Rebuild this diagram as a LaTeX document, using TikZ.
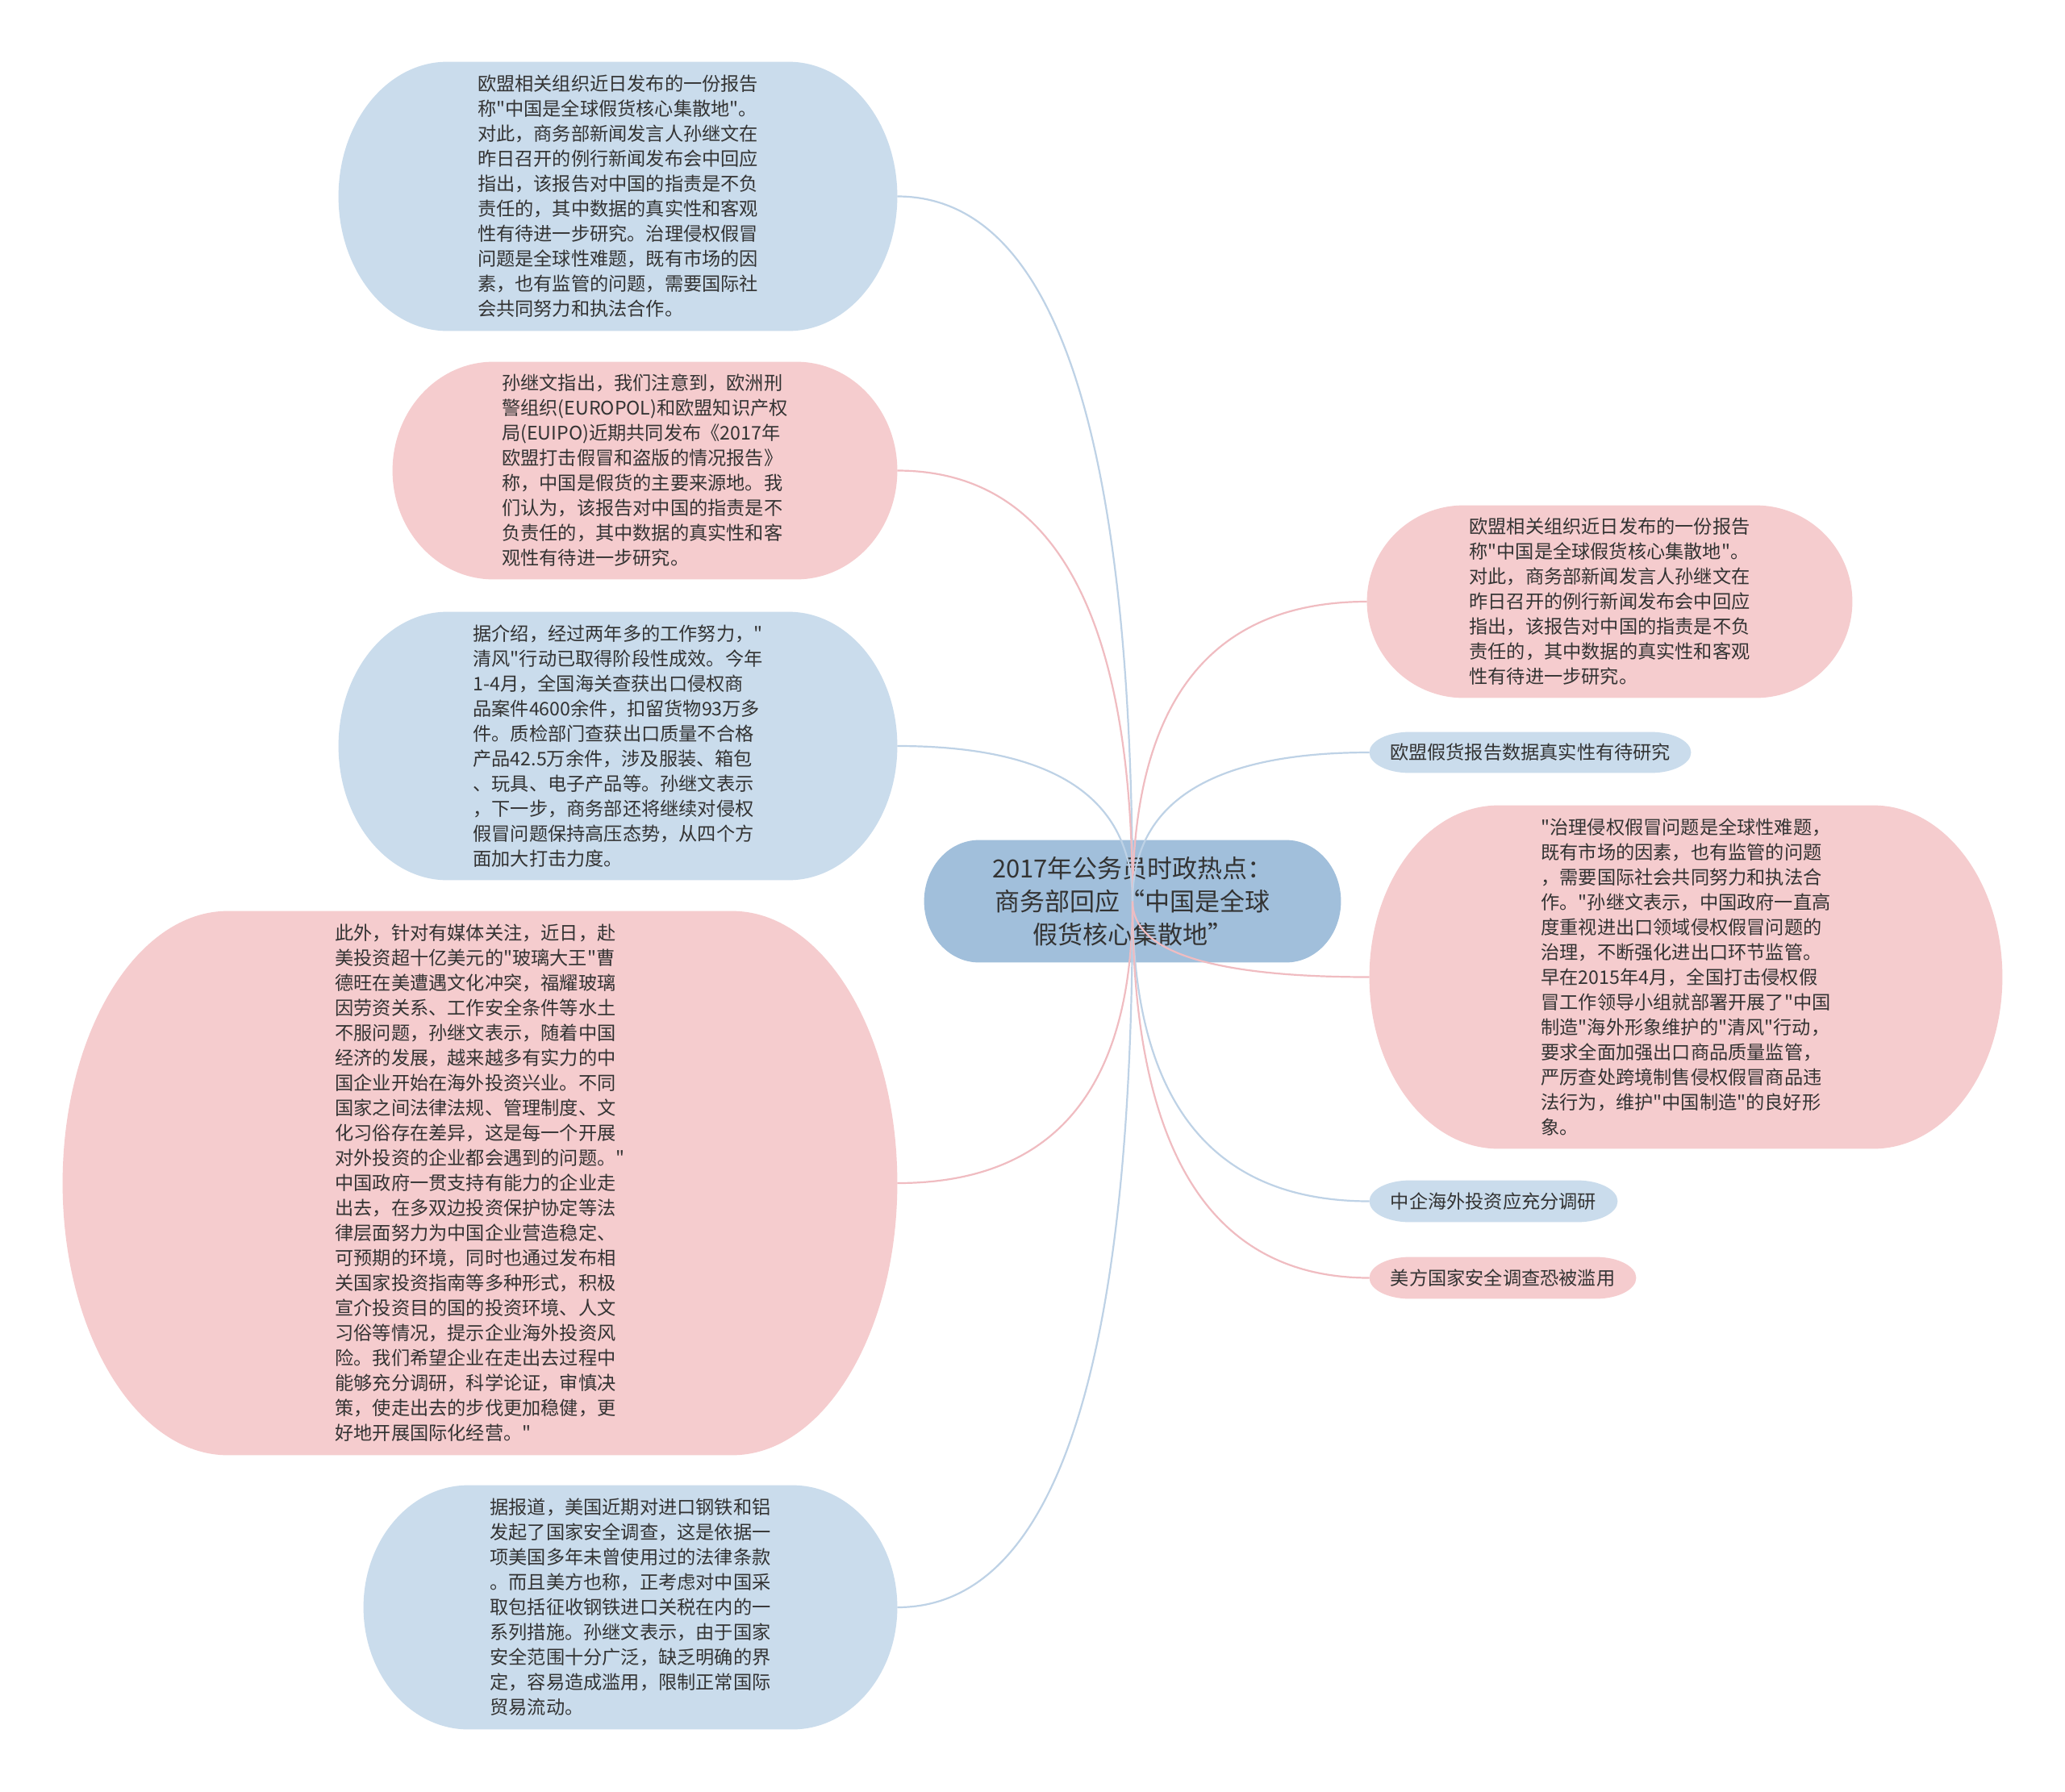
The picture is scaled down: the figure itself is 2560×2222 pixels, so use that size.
\documentclass[tikz,border=0pt]{standalone}
\usepackage{fontspec}
\setmainfont{Noto Sans CJK SC}[Ligatures=TeXOff]
\usetikzlibrary{calc}
\definecolor{bluefill}{RGB}{202,220,236}
\definecolor{pinkfill}{RGB}{245,204,206}
\definecolor{ctrfill}{RGB}{161,191,219}
\definecolor{blueline}{RGB}{190,210,230}
\definecolor{pinkline}{RGB}{240,188,193}
\definecolor{txt}{RGB}{51,51,51}
\pgfdeclarelayer{background}
\pgfsetlayers{background,main}
\newcommand\myblob[3]{%
\begin{pgfonlayer}{background}
\path[fill=#3] let \p1=(#1.north west), \p2=(#1.south east), \n1={(\y1-\y2)/2}, \n2={#2*0.5pt} in
 (\x1+\n2,\y1) -- (\x2-\n2,\y1)
 arc[start angle=90,end angle=0,x radius=\n2,y radius=\n1]
 arc[start angle=0,end angle=-90,x radius=\n2,y radius=\n1]
 -- (\x1+\n2,\y2)
 arc[start angle=270,end angle=180,x radius=\n2,y radius=\n1]
 arc[start angle=180,end angle=90,x radius=\n2,y radius=\n1]
 -- cycle;
\end{pgfonlayer}}
\newcommand\mylink[2]{%
\draw[#2, line width=1.1pt] (C.center) .. controls ($(C.center)!0.6667!(C.center|-#1)$) and ($(#1)!0.6667!(C.center|-#1)$) .. (#1);}
\begin{document}
\begin{tikzpicture}[x=0.5pt,y=-0.5pt,
  every node/.style={text=txt},
  tnode/.style={inner sep=0pt, align=left, font=\fontsize{11.6pt}{15.5pt}\selectfont}]
\useasboundingbox (0,0) rectangle (2560,2222);
\begin{pgfonlayer}{background}
\fill[white] (0,0) rectangle (2560,2222);
\end{pgfonlayer}

\node[tnode, minimum width=346pt, minimum height=166.5pt] (L1) at (766,243.5) {%
欧盟相关组织近日发布的一份报告\\
称"中国是全球假货核心集散地"。\\
对此，商务部新闻发言人孙继文在\\
昨日召开的例行新闻发布会中回应\\
指出，该报告对中国的指责是不负\\
责任的，其中数据的真实性和客观\\
性有待进一步研究。治理侵权假冒\\
问题是全球性难题，既有市场的因\\
素，也有监管的问题，需要国际社\\
会共同努力和执法合作。};
\myblob{L1}{135}{bluefill}

\node[tnode, minimum width=312.5pt, minimum height=134.5pt] (L2) at (799.5,583.5) {%
孙继文指出，我们注意到，欧洲刑\\
警组织(EUROPOL)和欧盟知识产权\\
局(EUIPO)近期共同发布《2017年\\
欧盟打击假冒和盗版的情况报告》\\
称，中国是假货的主要来源地。我\\
们认为，该报告对中国的指责是不\\
负责任的，其中数据的真实性和客\\
观性有待进一步研究。};
\myblob{L2}{125}{pinkfill}

\node[tnode, minimum width=346pt, minimum height=166pt] (L3) at (766,925) {%
据介绍，经过两年多的工作努力，"\\
清风"行动已取得阶段性成效。今年\\
1-4月，全国海关查获出口侵权商\\
品案件4600余件，扣留货物93万多\\
件。质检部门查获出口质量不合格\\
产品42.5万余件，涉及服装、箱包\\
、玩具、电子产品等。孙继文表示\\
，下一步，商务部还将继续对侵权\\
假冒问题保持高压态势，从四个方\\
面加大打击力度。};
\myblob{L3}{135}{bluefill}

\node[tnode, minimum width=517pt, minimum height=337pt] (L4) at (595,1467) {%
此外，针对有媒体关注，近日，赴\\
美投资超十亿美元的"玻璃大王"曹\\
德旺在美遭遇文化冲突，福耀玻璃\\
因劳资关系、工作安全条件等水土\\
不服问题，孙继文表示，随着中国\\
经济的发展，越来越多有实力的中\\
国企业开始在海外投资兴业。不同\\
国家之间法律法规、管理制度、文\\
化习俗存在差异，这是每一个开展\\
对外投资的企业都会遇到的问题。"\\
中国政府一贯支持有能力的企业走\\
出去，在多双边投资保护协定等法\\
律层面努力为中国企业营造稳定、\\
可预期的环境，同时也通过发布相\\
关国家投资指南等多种形式，积极\\
宣介投资目的国的投资环境、人文\\
习俗等情况，提示企业海外投资风\\
险。我们希望企业在走出去过程中\\
能够充分调研，科学论证，审慎决\\
策，使走出去的步伐更加稳健，更\\
好地开展国际化经营。"};
\myblob{L4}{205}{pinkfill}

\node[tnode, minimum width=330.5pt, minimum height=151pt] (L5) at (781.5,1993) {%
据报道，美国近期对进口钢铁和铝\\
发起了国家安全调查，这是依据一\\
项美国多年未曾使用过的法律条款\\
。而且美方也称，正考虑对中国采\\
取包括征收钢铁进口关税在内的一\\
系列措施。孙继文表示，由于国家\\
安全范围十分广泛，缺乏明确的界\\
定，容易造成滥用，限制正常国际\\
贸易流动。};
\myblob{L5}{130}{bluefill}

\node[inner sep=0pt, align=center, font=\fontsize{15.5pt}{20.5pt}\selectfont, minimum width=258pt, minimum height=75.5pt] (C) at (1404,1117.5) {%
2017年公务员时政热点：\\
商务部回应“中国是全球\\
假货核心集散地”};
\myblob{C}{68}{ctrfill}

\node[tnode, minimum width=300.5pt, minimum height=119pt] (R1) at (1995.5,746) {%
欧盟相关组织近日发布的一份报告\\
称"中国是全球假货核心集散地"。\\
对此，商务部新闻发言人孙继文在\\
昨日召开的例行新闻发布会中回应\\
指出，该报告对中国的指责是不负\\
责任的，其中数据的真实性和客观\\
性有待进一步研究。};
\myblob{R1}{120}{pinkfill}

\node[tnode, minimum width=199pt, minimum height=25pt] (R2) at (1897,933) {欧盟假货报告数据真实性有待研究};
\myblob{R2}{50}{bluefill}

\node[tnode, minimum width=392pt, minimum height=212.5pt] (R3) at (2090,1211.5) {%
"治理侵权假冒问题是全球性难题，\\
既有市场的因素，也有监管的问题\\
，需要国际社会共同努力和执法合\\
作。"孙继文表示，中国政府一直高\\
度重视进出口领域侵权假冒问题的\\
治理，不断强化进出口环节监管。\\
早在2015年4月，全国打击侵权假\\
冒工作领导小组就部署开展了"中国\\
制造"海外形象维护的"清风"行动，\\
要求全面加强出口商品质量监管，\\
严厉查处跨境制售侵权假冒商品违\\
法行为，维护"中国制造"的良好形\\
象。};
\myblob{R3}{160}{pinkfill}

\node[tnode, minimum width=153.5pt, minimum height=25.5pt] (R4) at (1851.5,1489.5) {中企海外投资应充分调研};
\myblob{R4}{50}{bluefill}

\node[tnode, minimum width=165pt, minimum height=25.5pt] (R5) at (1863,1584.5) {美方国家安全调查恐被滥用};
\myblob{R5}{50}{pinkfill}

\mylink{L1.east}{blueline}
\mylink{L2.east}{pinkline}
\mylink{L3.east}{blueline}
\mylink{L4.east}{pinkline}
\mylink{L5.east}{blueline}
\mylink{R1.west}{pinkline}
\mylink{R2.west}{blueline}
\mylink{R3.west}{pinkline}
\mylink{R4.west}{blueline}
\mylink{R5.west}{pinkline}
\end{tikzpicture}
\end{document}
